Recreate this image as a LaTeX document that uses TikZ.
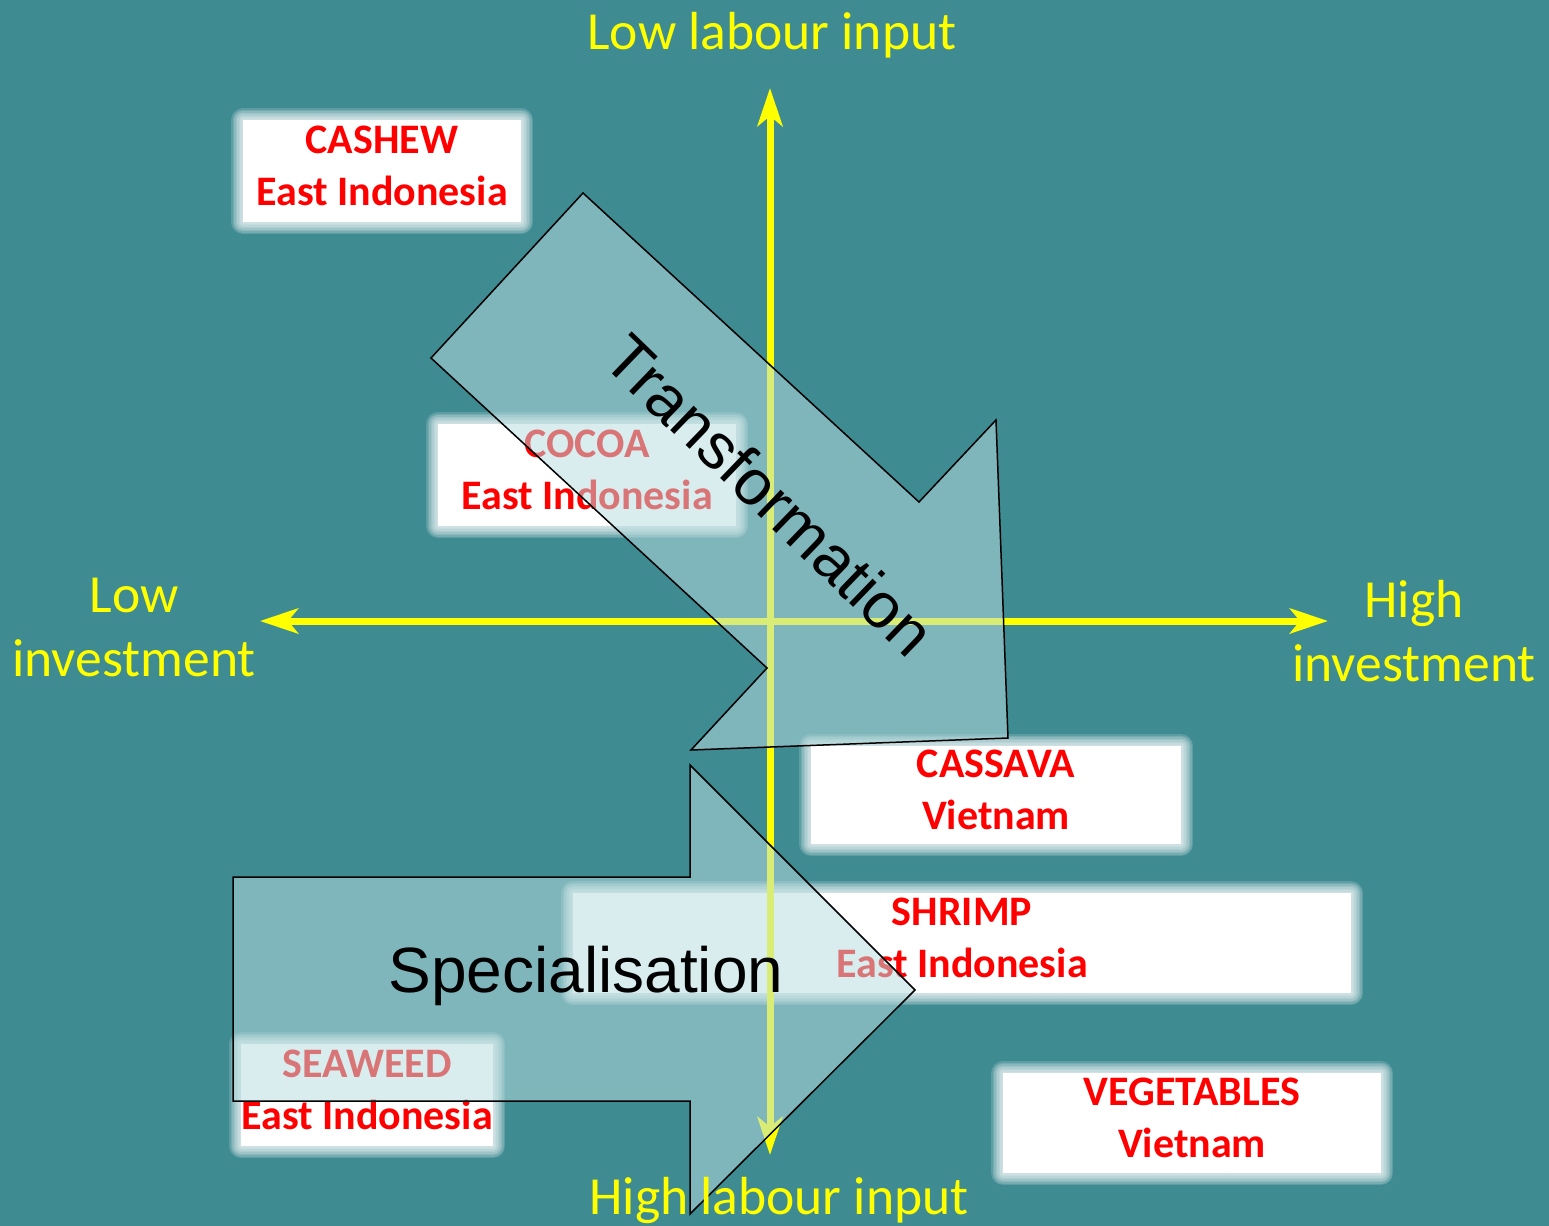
\documentclass[tikz,border=0pt]{standalone}
\usepackage{fontspec}
\setmainfont{Carlito}
\newfontfamily\arialf{Liberation Sans}
\usetikzlibrary{arrows.meta}
\definecolor{bgteal}{RGB}{62,139,146}
\definecolor{arrfill}{RGB}{185,221,224}
\definecolor{axyellow}{RGB}{255,255,0}
\definecolor{boxred}{RGB}{255,0,0}
\begin{document}
\begin{tikzpicture}[x=0.5pt,y=-0.5pt,
  glowring/.style={preaction={draw=white, line width=#1, draw opacity=0.16, line join=round}},
  glowbox/.style={fill=white, inner sep=0pt, align=center, text=boxred,
    font=\fontsize{21}{26}\selectfont\bfseries, text depth=5pt,
    glowring=12pt, glowring=10.5pt, glowring=9pt, glowring=7.5pt,
    glowring=6pt, glowring=4.5pt, glowring=3pt, glowring=1.5pt},
  axisline/.style={draw=axyellow, line width=3.5pt,
    {Stealth[length=19pt,width=12.5pt,inset=5pt]}-{Stealth[length=19pt,width=12.5pt,inset=5pt]}},
  bigarrow/.style={fill=arrfill, fill opacity=0.53, draw=black, line width=0.75pt, line join=miter},
  arrowtext/.style={font=\arialf\fontsize{32}{38}\selectfont, text=black, inner sep=0pt},
  axislabel/.style={font=\fontsize{26.8}{32}\selectfont, text=axyellow, align=center, inner sep=0pt}]
\fill[bgteal] (0,0) rectangle (1549,1226);
\useasboundingbox (0,0) rectangle (1549,1226);

% boxes
\node[glowbox, minimum width=139pt, minimum height=51pt] (cashew) at (382,171) {CASHEW\\East Indonesia};
\node[glowbox, minimum width=149pt, minimum height=51pt] (cocoa) at (587,475) {COCOA\\East Indonesia};
\node[glowbox, minimum width=185pt, minimum height=49pt] (cassava) at (996,795) {CASSAVA\\Vietnam};
\node[glowbox, minimum width=389pt, minimum height=50pt] (shrimp) at (962,943) {SHRIMP\\East Indonesia};
\node[glowbox, minimum width=126pt, minimum height=51pt] (seaweed) at (367,1095) {SEAWEED\\East Indonesia};
\node[glowbox, minimum width=189pt, minimum height=50pt] (veg) at (1192,1123) {VEGETABLES\\Vietnam};

% axes
\coordinate (vtop) at (770,88);
\coordinate (vbot) at (770,1155);
\coordinate (hleft) at (260,621);
\coordinate (hright) at (1328,621);
\draw[axisline] (vbot) -- (vtop);
\draw[axisline] (hleft) -- (hright);

% big arrows
\draw[bigarrow] (583,193) -- (919,502) -- (996,420) -- (1008,738) -- (691,750) -- (767,668) -- (431,358) -- cycle;
\draw[bigarrow] (233,877) -- (690,877) -- (690,765) -- (915,990) -- (690,1214) -- (690,1101) -- (233,1101) -- cycle;
\node[arrowtext, rotate=-44] (transf) at (770,495) {Transformation};
\node[arrowtext] (spec) at (586,976) {Specialisation};

% axis labels
\node[axislabel] (lowlab) at (772,35) {Low labour input};
\node[axislabel] (highlab) at (779,1200) {High labour input};
\node[axislabel] (lowinv) at (134,627) {Low\\investment};
\node[axislabel] (highinv) at (1414,631) {High\\investment};
\end{tikzpicture}
\end{document}
